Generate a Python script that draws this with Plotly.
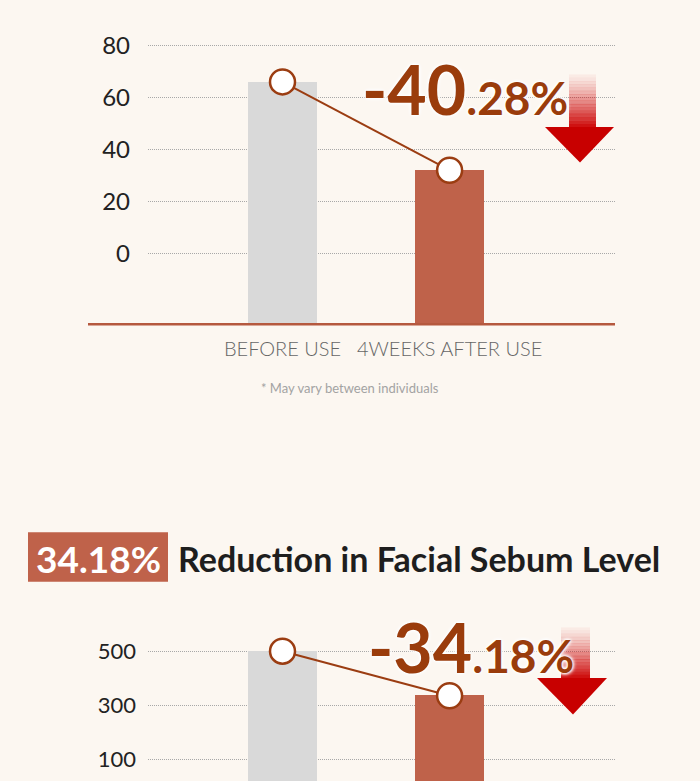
import plotly.graph_objects as go

# ---------------- data ----------------
categories = ["BEFORE USE", "4WEEKS AFTER USE"]
top_values = [66, 32]
bottom_values = [500, 335]
top_ticks = [0, 20, 40, 60, 80]
bottom_ticks = [100, 300, 500]
top_change = ("-40", ".28%")
bottom_change = ("-34", ".18%")
badge_text = "34.18%"
title_text = "Reduction in Facial Sebum Level"
footnote = "* May vary between individuals"

# ---------------- styling ----------------
W, H = 700, 781
BG = "#fcf7f1"
GRAY_BAR = "#d9d9d9"
RUST = "#bf624a"
LINE = "#9b3d12"
TEXT_BROWN = "#9a3c0c"
RED = "#c80000"
FONT = "Lato"

def px(x):
    return x / W

def py(y):
    return 1 - y / H

top_range = [-27.3, 83.4]
bot_range = [19.3, 628.4]
x_range = [-0.805, 1.99]

fig = go.Figure()

# top chart
fig.add_trace(go.Bar(
    x=categories, y=[v - top_range[0] for v in top_values], base=top_range[0],
    marker=dict(color=[GRAY_BAR, RUST], line=dict(width=0)),
    width=0.413, xaxis="x", yaxis="y", showlegend=False, hoverinfo="skip"))
fig.add_trace(go.Scatter(
    x=categories, y=top_values, mode="lines+markers",
    line=dict(color=LINE, width=2),
    marker=dict(size=25, color="white", line=dict(color=LINE, width=2.5)),
    xaxis="x", yaxis="y", showlegend=False, hoverinfo="skip"))

# bottom chart
fig.add_trace(go.Bar(
    x=categories, y=bottom_values,
    marker=dict(color=[GRAY_BAR, RUST], line=dict(width=0)),
    width=0.413, xaxis="x2", yaxis="y2", showlegend=False, hoverinfo="skip"))
fig.add_trace(go.Scatter(
    x=categories, y=bottom_values, mode="lines+markers",
    line=dict(color=LINE, width=2),
    marker=dict(size=25, color="white", line=dict(color=LINE, width=2.5)),
    xaxis="x2", yaxis="y2", showlegend=False, hoverinfo="skip"))

yaxis_common = dict(
    showgrid=True, gridcolor="#a8a8a8", griddash="1px,1px", gridwidth=1,
    zeroline=False, showline=False, ticks="", ticklabelstandoff=17,
    tickfont=dict(family=FONT, size=24, color="#222222"),
)

fig.update_layout(
    width=W, height=H,
    margin=dict(l=0, r=0, t=0, b=0),
    paper_bgcolor=BG, plot_bgcolor=BG,
    bargap=0,
    xaxis=dict(domain=[px(148), px(615)], range=x_range, type="category",
               showgrid=False, zeroline=False, showline=False, ticks="",
               anchor="y", ticklabelstandoff=11,
               tickfont=dict(family=FONT, size=20, color="#666666", weight=300)),
    yaxis=dict(domain=[py(320), py(30)], range=top_range, tickvals=top_ticks,
               anchor="x", **yaxis_common),
    xaxis2=dict(domain=[px(148), px(615)], range=x_range, type="category",
                showgrid=False, zeroline=False, showline=False, ticks="",
                showticklabels=False, anchor="y2"),
    yaxis2=dict(domain=[0, py(615)], range=bot_range, tickvals=bottom_ticks,
                anchor="x2", **{**yaxis_common,
                               "tickfont": dict(family=FONT, size=22, color="#222222"),
                               "ticklabelstandoff": 11}),
)

shapes = []
# baseline of the top chart
shapes.append(dict(type="line", xref="paper", yref="paper",
                   x0=px(88), x1=px(615), y0=py(320), y1=py(320),
                   line=dict(color="#b5593f", width=2.5)))

# title badge
shapes.append(dict(type="rect", xref="paper", yref="paper",
                   x0=px(28), x1=px(168), y0=py(580), y1=py(530),
                   fillcolor=RUST, line=dict(width=0), layer="below"))


def arrow(shaft_x0, shaft_x1, top_y, head_y, head_x0, head_x1, tip_x, tip_y):
    n = 16
    step = (head_y - top_y) / n
    for i in range(n):
        a = 0.02 + 0.95 * ((i + 1) / n) ** 1.3
        shapes.append(dict(type="rect", xref="paper", yref="paper",
                           x0=px(shaft_x0), x1=px(shaft_x1),
                           y0=py(top_y + (i + 1) * step + 0.3), y1=py(top_y + i * step),
                           fillcolor=f"rgba(205,10,10,{a:.3f})", line=dict(width=0)))
    path = (f"M {px(head_x0)},{py(head_y)} L {px(head_x1)},{py(head_y)} "
            f"L {px(tip_x)},{py(tip_y)} Z")
    shapes.append(dict(type="path", xref="paper", yref="paper", path=path,
                       fillcolor=RED, line=dict(width=0)))


arrow(569, 596, 68, 121, 545, 614, 580, 157)
arrow(561, 590, 626, 677, 537, 607, 573, 714)

fig.update_layout(shapes=shapes)

halo = "0 0 3px #ffffff, 0 0 3px #ffffff, 0 0 4px #ffffff, 0 0 5px #ffffff"

annotations = [
    dict(xref="paper", yref="paper", x=px(360), y=py(82), xanchor="left", yanchor="middle",
         text=f"{top_change[0]}<span style='font-size:46px'>{top_change[1]}</span>",
         showarrow=False,
         font=dict(family=FONT, size=68, color=TEXT_BROWN, weight="bold", shadow=halo)),
    dict(xref="paper", yref="paper", x=px(366), y=py(645), xanchor="left", yanchor="middle",
         text=f"{bottom_change[0]}<span style='font-size:46px'>{bottom_change[1]}</span>",
         showarrow=False,
         font=dict(family=FONT, size=68, color=TEXT_BROWN, weight="bold", shadow=halo)),
    dict(xref="paper", yref="paper", x=px(350), y=py(384), xanchor="center", yanchor="middle",
         text=footnote, showarrow=False,
         font=dict(family=FONT, size=13, color="#a3a3a3")),
    dict(xref="paper", yref="paper", x=px(98), y=py(556), xanchor="center", yanchor="middle",
         text=badge_text, showarrow=False,
         font=dict(family=FONT, size=37, color="white", weight="bold")),
    dict(xref="paper", yref="paper", x=px(176), y=py(556), xanchor="left", yanchor="middle",
         text=title_text, showarrow=False,
         font=dict(family=FONT, size=34, color="#1e1e1e", weight="bold")),
]
fig.update_layout(annotations=annotations)

fig.write_html("out.html")
